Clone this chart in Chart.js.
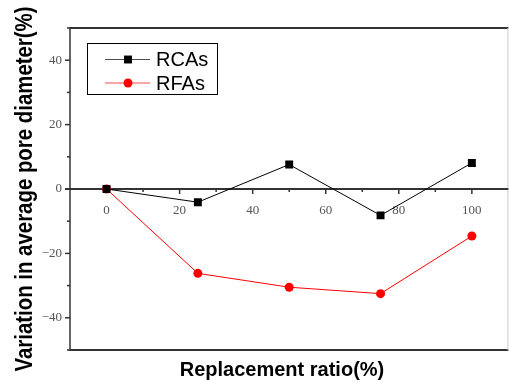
<!DOCTYPE html>
<html><head><meta charset="utf-8">
<script src="https://cdn.jsdelivr.net/npm/chart.js@4/dist/chart.umd.min.js"></script>
<style>html,body{margin:0;padding:0;background:#fff;overflow:hidden}canvas{display:block}</style>
</head><body>
<canvas id="c" width="514" height="382"></canvas>
<script>
const ratios = [0, 25, 50, 75, 100];
const rcaValues = [0, -4.1, 7.6, -8.2, 8.1];
const rfaValues = [0, -26.2, -30.5, -32.5, -14.6];
const seriesNames = ['RCAs', 'RFAs'];
const xTickValues = [0, 20, 40, 60, 80, 100];
const yTickValues = [-40, -20, 0, 20, 40];
const xTitle = 'Replacement ratio(%)';
const yTitle = 'Variation in average pore diameter(%)';

const toPts = v => ratios.map((x, i) => ({x, y: v[i]}));

const axesPlugin = {
  id: 'axesPlugin',
  beforeDatasetsDraw(chart) {
    const {ctx, chartArea: a, scales: {x, y}} = chart;
    ctx.save();
    const serif = '13px "Liberation Serif", "Times New Roman", serif';
    ctx.strokeStyle = '#333';
    ctx.lineWidth = 2;
    ctx.beginPath(); ctx.moveTo(a.left, a.top); ctx.lineTo(a.right, a.top); ctx.stroke();
    ctx.beginPath(); ctx.moveTo(a.left, a.bottom); ctx.lineTo(a.right, a.bottom); ctx.stroke();
    ctx.lineWidth = 1.5;
    ctx.beginPath(); ctx.moveTo(a.left, a.top - 1); ctx.lineTo(a.left, a.bottom + 1); ctx.stroke();
    ctx.strokeStyle = '#ccc'; ctx.lineWidth = 1;
    ctx.beginPath(); ctx.moveTo(a.right - 0.5, a.top); ctx.lineTo(a.right - 0.5, a.bottom); ctx.stroke();
    ctx.strokeStyle = '#333'; ctx.lineWidth = 1.5;
    for (let v = y.min; v <= y.max; v += 10) {
      const py = y.getPixelForValue(v);
      const major = v % 20 === 0;
      ctx.beginPath(); ctx.moveTo(a.left, py); ctx.lineTo(a.left - (major ? 5 : 3), py); ctx.stroke();
    }
    ctx.fillStyle = '#555'; ctx.font = serif; ctx.textAlign = 'right'; ctx.textBaseline = 'middle';
    yTickValues.forEach(v => {
      const py = y.getPixelForValue(v);
      ctx.fillText(v < 0 ? '\u2212' + Math.abs(v) : String(v), a.left - 8, py);
    });
    const y0 = y.getPixelForValue(0);
    ctx.strokeStyle = '#333'; ctx.lineWidth = 2;
    ctx.beginPath(); ctx.moveTo(a.left - 5, y0); ctx.lineTo(a.right, y0); ctx.stroke();
    ctx.lineWidth = 1.5;
    for (let v = 10; v < x.max; v += 10) {
      const px = x.getPixelForValue(v);
      const major = v % 20 === 0;
      ctx.beginPath(); ctx.moveTo(px, y0); ctx.lineTo(px, y0 + (major ? 5 : 3)); ctx.stroke();
    }
    ctx.fillStyle = '#555'; ctx.font = serif; ctx.textAlign = 'center'; ctx.textBaseline = 'alphabetic';
    xTickValues.forEach(v => ctx.fillText(String(v), x.getPixelForValue(v), y0 + 25));
    ctx.fillStyle = '#000';
    ctx.font = 'bold 20px "Liberation Sans", Arial, sans-serif';
    ctx.textAlign = 'center'; ctx.textBaseline = 'alphabetic';
    ctx.fillText(xTitle, 282, 376);
    ctx.save();
    ctx.translate(32, (8 + 370) / 2);
    ctx.rotate(-Math.PI / 2);
    ctx.scale(1.02, 1.2);
    ctx.fillText(yTitle, 0, 0);
    ctx.restore();
    ctx.restore();
  },
  afterDraw(chart) {
    const {ctx} = chart;
    ctx.save();
    ctx.fillStyle = '#fff';
    ctx.fillRect(87, 43, 130, 51);
    ctx.strokeStyle = '#000'; ctx.lineWidth = 1;
    ctx.strokeRect(87.5, 43.5, 130, 51);
    chart.data.datasets.forEach((ds, i) => {
      const cy = 59.5 + i * 23.5;
      ctx.strokeStyle = ds.borderColor; ctx.lineWidth = 1;
      ctx.globalAlpha = 0.7;
      ctx.beginPath(); ctx.moveTo(105, cy); ctx.lineTo(150, cy); ctx.stroke();
      ctx.globalAlpha = 1;
      ctx.fillStyle = ds.backgroundColor;
      ctx.beginPath();
      if (ds.pointStyle === 'rect') {
        const s = ds.pointRadius * Math.SQRT1_2;
        ctx.rect(128 - s, cy - s, 2 * s, 2 * s);
      } else {
        ctx.arc(128, cy, ds.pointRadius, 0, Math.PI * 2);
      }
      ctx.fill();
      ctx.fillStyle = '#000';
      ctx.font = '20px "Liberation Sans", Arial, sans-serif';
      ctx.textAlign = 'left'; ctx.textBaseline = 'middle';
      ctx.fillText(seriesNames[i], 156, cy + 1);
    });
    ctx.restore();
  }
};

new Chart(document.getElementById('c'), {
  type: 'line',
  data: {
    datasets: [
      {label: seriesNames[0], data: toPts(rcaValues), borderColor: '#000', backgroundColor: '#000',
       borderWidth: 1, pointStyle: 'rect', pointRadius: 5.6, pointBorderWidth: 0, tension: 0},
      {label: seriesNames[1], data: toPts(rfaValues), borderColor: '#ff0000', backgroundColor: '#ff0000',
       borderWidth: 1, pointStyle: 'circle', pointRadius: 4.5, pointBorderWidth: 0, tension: 0}
    ]
  },
  options: {
    responsive: false, animation: false,
    layout: {padding: {left: 70, top: 28, right: 0, bottom: 32}},
    plugins: {legend: {display: false}, tooltip: {enabled: false}},
    scales: {
      x: {type: 'linear', min: -10, max: 110, display: false},
      y: {type: 'linear', min: -50, max: 50, display: false}
    }
  },
  plugins: [axesPlugin]
});
</script>
</body></html>
